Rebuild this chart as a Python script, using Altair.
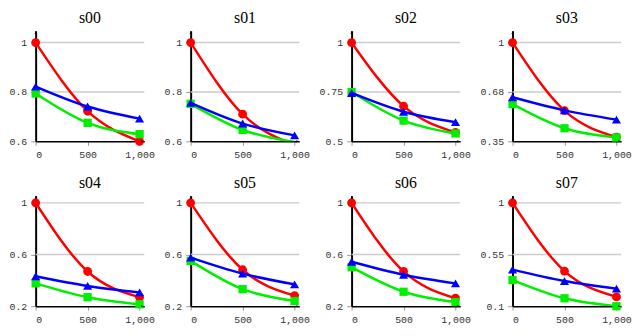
import altair as alt
import pandas as pd

# ---- data ----
x_vals = [0, 500, 1000]
panel_names = ["s00", "s01", "s02", "s03", "s04", "s05", "s06", "s07"]
y_min = [0.6, 0.6, 0.5, 0.35, 0.2, 0.2, 0.2, 0.1]
y_mid = [0.8, 0.8, 0.75, 0.675, 0.6, 0.6, 0.6, 0.55]
y_max = [1, 1, 1, 1, 1, 1, 1, 1]

red_vals = [
    [1.0, 0.722, 0.600],
    [1.0, 0.710, 0.585],
    [1.0, 0.678, 0.545],
    [1.0, 0.552, 0.378],
    [1.0, 0.469, 0.270],
    [1.0, 0.482, 0.282],
    [1.0, 0.469, 0.262],
    [1.0, 0.406, 0.181],
]
green_vals = [
    [0.794, 0.675, 0.629],
    [0.752, 0.646, 0.597],
    [0.750, 0.605, 0.540],
    [0.595, 0.436, 0.375],
    [0.377, 0.270, 0.215],
    [0.551, 0.332, 0.240],
    [0.502, 0.312, 0.232],
    [0.328, 0.169, 0.100],
]
blue_vals = [
    [0.822, 0.741, 0.692],
    [0.756, 0.672, 0.624],
    [0.745, 0.650, 0.597],
    [0.640, 0.554, 0.493],
    [0.432, 0.357, 0.307],
    [0.576, 0.452, 0.369],
    [0.544, 0.444, 0.377],
    [0.419, 0.319, 0.253],
]

series_values = [red_vals, green_vals, blue_vals]
series_colors = ["#ff0000", "#00ee00", "#0000ff"]
series_shapes = ["circle", "square", "triangle-up"]
series_sizes = [80, 70, 85]

headroom = [1.12, 1.12, 1.12, 1.12, 1.07, 1.07, 1.07, 1.07]

W = 110
H = 112
X_TOP = 1045

LABEL_FONT = "Liberation Mono"
TITLE_FONT = "Liberation Serif"

UP_ARROW = "M0,0L0.55,1.8L0,1.35L-0.55,1.8Z"
RIGHT_ARROW = "M0,0L-1.8,-0.55L-1.35,0L-1.8,0.55Z"


def panel(i):
    lo = y_min[i]
    hi = lo + (y_max[i] - lo) * headroom[i]
    xs = alt.Scale(domain=[0, X_TOP], nice=False, zero=False)
    ys = alt.Scale(domain=[lo, hi], nice=False, zero=False)
    x_axis = alt.Axis(
        values=x_vals, labelExpr="format(datum.value, ',')", grid=False, title=None,
        domainColor="black", domainWidth=1.5,
        tickColor="#999", tickSize=4, labelPadding=4,
        labelFont=LABEL_FONT, labelFontSize=10, labelColor="#333",
    )
    y_axis = alt.Axis(
        values=[y_min[i], y_mid[i], y_max[i]], format=".2~f", title=None,
        grid=False,
        domainColor="black", domainWidth=2,
        tickColor="#999", tickSize=5, labelPadding=4,
        labelFont=LABEL_FONT, labelFontSize=10, labelColor="#333",
    )

    grid_df = pd.DataFrame({"g": [y_mid[i], y_max[i]]})
    grid = alt.Chart(grid_df).mark_rule(color="#cccccc", strokeWidth=1.5).encode(
        y=alt.Y("g:Q", scale=ys, axis=y_axis),
        x=alt.value(0), x2=alt.value(W),
    )
    layers = [grid]
    for vals, col, shp, sz in zip(series_values, series_colors, series_shapes, series_sizes):
        df = pd.DataFrame({"x": x_vals, "v": vals[i]})
        base = alt.Chart(df)
        xenc = alt.X("x:Q", scale=xs, axis=x_axis)
        yenc = alt.Y("v:Q", scale=ys, axis=y_axis)
        line = base.mark_line(
            color=col, strokeWidth=2.5, interpolate="monotone", clip=True
        ).encode(x=xenc, y=yenc)
        pts = base.transform_filter(
            alt.datum.v >= lo
        ).mark_point(
            shape=shp, filled=True, color=col, opacity=1, size=sz
        ).encode(x=xenc, y=yenc)
        layers += [line, pts]

    one = alt.Chart(pd.DataFrame({"a": [0]}))
    up = one.mark_point(
        shape=UP_ARROW, filled=True, color="black", opacity=1, size=16
    ).encode(x=alt.value(0), y=alt.value(0))
    right = one.mark_point(
        shape=RIGHT_ARROW, filled=True, color="black", opacity=1, size=16
    ).encode(x=alt.value(W), y=alt.value(H))
    layers += [up, right]

    return alt.layer(*layers).properties(
        width=W, height=H,
        title=alt.TitleParams(
            panel_names[i], font=TITLE_FONT, fontSize=16, fontWeight="normal",
            color="black", offset=5, frame="group", anchor="middle",
        ),
    )


chart = alt.concat(
    *[panel(i) for i in range(8)], columns=4,
    spacing={"row": 16, "column": 8},
).properties(
    padding=0, align="each"
).configure_view(stroke=None)

chart.save("out.html", embed_options={"renderer": "svg", "actions": False})
